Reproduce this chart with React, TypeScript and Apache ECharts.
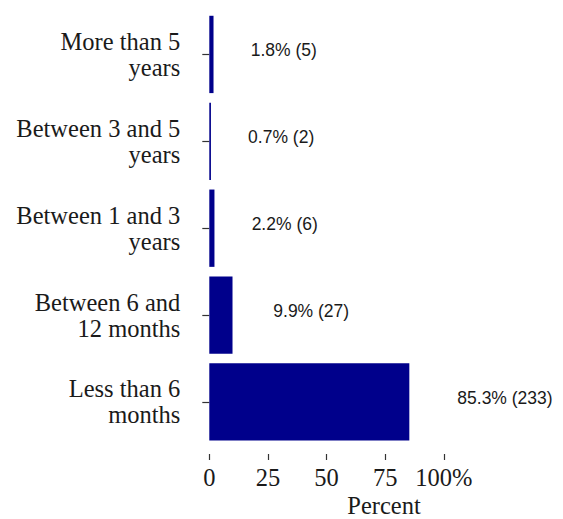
import React, { useEffect, useRef } from "react";
import * as echarts from "echarts";

const categories = [
  "More than 5\nyears",
  "Between 3 and 5\nyears",
  "Between 1 and 3\nyears",
  "Between 6 and\n12 months",
  "Less than 6\nmonths",
];
const percents = [1.8, 0.7, 2.2, 9.9, 85.3];
const counts = [5, 2, 6, 27, 233];
const xTicks = [0, 25, 50, 75, 100];
const axisTitle = "Percent";

const SERIF = "'Liberation Serif', 'Times New Roman', serif";
const SANS = "'Liberation Sans', Arial, sans-serif";
const LABEL_SIZE = 17.5;

function measure(text: string): number {
  const c = document.createElement("canvas");
  const ctx = c.getContext("2d");
  if (!ctx) return text.length * 8;
  ctx.font = `${LABEL_SIZE}px ${SANS}`;
  return ctx.measureText(text).width;
}

export default function App() {
  const ref = useRef<HTMLDivElement>(null);
  useEffect(() => {
    document.body.style.margin = "0";
    if (!ref.current) return;
    const chart = echarts.init(ref.current, undefined, { renderer: "svg" });
    const labels = percents.map((p, i) => `${p.toFixed(1)}% (${counts[i]})`);
    chart.setOption({
      animation: false,
      backgroundColor: "#ffffff",
      grid: {
        left: 209.3,
        right: 119.2,
        top: 11,
        bottom: 73.6,
        containLabel: false,
        outerBoundsMode: "none",
      },
      xAxis: {
        type: "value",
        min: xTicks[0],
        max: xTicks[xTicks.length - 1],
        interval: xTicks[1] - xTicks[0],
        offset: 8.6,
        axisLine: { show: false },
        axisTick: { show: true, length: 6, lineStyle: { color: "#333333", width: 1.2 } },
        splitLine: { show: false },
        axisLabel: {
          margin: 11,
          color: "#1a1a1a",
          fontFamily: SERIF,
          fontSize: 24.5,
          formatter: (v: number) => (v === xTicks[xTicks.length - 1] ? `${v}%` : `${v}`),
        },
        name: axisTitle,
        nameLocation: "middle",
        nameGap: 39,
        nameMoveOverlap: false,
        nameTextStyle: {
          color: "#1a1a1a",
          fontFamily: SERIF,
          fontSize: 24.5,
          lineHeight: 24,
          padding: [0, 0, 0, 115],
        },
      },
      yAxis: {
        type: "category",
        data: categories,
        inverse: true,
        offset: 17,
        axisLine: { show: false },
        axisTick: { show: true, length: 7, alignWithLabel: true, lineStyle: { color: "#333333", width: 1.2 } },
        splitLine: { show: false },
        axisLabel: {
          margin: 12,
          color: "#1a1a1a",
          fontFamily: SERIF,
          fontSize: 24.5,
          lineHeight: 26,
          align: "right",
          padding: [9, 0, 0, 0],
        },
      },
      series: [
        {
          type: "bar",
          barCategoryGap: "11%",
          itemStyle: { color: "#00008B" },
          data: percents.map((p, i) => ({
            value: p,
            label: {
              show: true,
              position: "right",
              distance: 12.7 + 0.37 * measure(labels[i]),
              formatter: labels[i],
              color: "#1a1a1a",
              fontFamily: SANS,
              fontSize: LABEL_SIZE,
              offset: [0, -4],
            },
          })),
        },
      ],
    });
    return () => chart.dispose();
  }, []);
  return <div ref={ref} style={{ width: 563, height: 519 }} />;
}
